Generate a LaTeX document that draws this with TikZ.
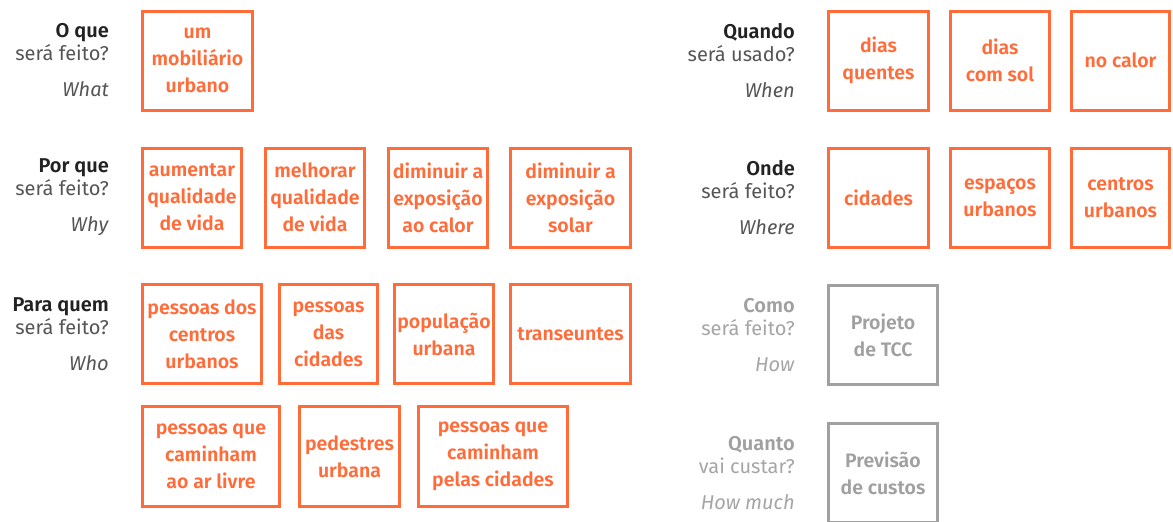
\documentclass[tikz,border=0pt]{standalone}
\usepackage{fontspec}
\setmainfont{Fira Sans}[BoldFont={Fira Sans SemiBold}]
\usetikzlibrary{positioning}

\definecolor{orng}{RGB}{255,108,58}
\definecolor{boxgray}{RGB}{160,160,160}
\definecolor{lbldark}{RGB}{34,34,34}
\definecolor{lblgray}{RGB}{85,85,85}
\definecolor{lbllight}{RGB}{165,165,165}

\tikzset{
  item/.style={draw=orng, text=orng, line width=3pt, minimum height=99pt,
    inner sep=1pt, align=center, font=\fontsize{19.5}{27}\selectfont\bfseries},
  grayitem/.style={item, draw=boxgray, text=boxgray},
  lbl/.style={align=right, inner sep=0pt, text=lblgray,
    font=\fontsize{20}{23}\selectfont},
  graylbl/.style={lbl, text=lbllight},
}

\begin{document}
\begin{tikzpicture}[x=1pt,y=-1pt]
\clip (0,0) rectangle (1173,522);

% o que / what
\node (what1) at (197.5,60.5) [item, minimum width=110pt] {um\\mobiliário\\urbano};
\node (whatL) [lbl, left=32pt of what1] {\textcolor{lbldark}{\bfseries O que}\\será feito?\\[13pt]\textit{What}};

% por que / why
\node (why1) at (192,197.5) [item, minimum width=99pt] {aumentar\\qualidade\\de vida};
\node (why2) [item, minimum width=99pt, right=21pt of why1] {melhorar\\qualidade\\de vida};
\node (why3) [item, minimum width=99pt, right=21pt of why2] {diminuir a\\exposição\\ao calor};
\node (why4) [item, minimum width=120pt, right=20pt of why3] {diminuir a\\exposição\\solar};
\node (whyL) [lbl, left=32pt of why1] {\textcolor{lbldark}{\bfseries Por que}\\será feito?\\[13pt]\textit{Why}};

% para quem / who
\node (who1) at (202,334) [item, minimum width=119pt] {pessoas dos\\centros\\urbanos};
\node (who2) [item, minimum width=98pt, right=15pt of who1] {pessoas\\das\\cidades};
\node (who3) [item, minimum width=99pt, right=14pt of who2] {população\\urbana};
\node (who4) [item, minimum width=120pt, right=14pt of who3] {transeuntes};
\node (whoL) [lbl, left=32pt of who1] {\textcolor{lbldark}{\bfseries Para quem}\\será feito?\\[13pt]\textit{Who}};
\node (who5) at (211,456.5) [item, minimum width=137pt, minimum height=100pt] {pessoas que\\caminham\\ao ar livre};
\node (who6) [item, minimum width=100pt, minimum height=100pt, right=17pt of who5] {pedestres\\urbana};
\node (who7) [item, minimum width=149pt, minimum height=100pt, right=16pt of who6] {pessoas que\\caminham\\pelas cidades};

% quando / when
\node (when1) at (878.5,60.5) [item, minimum width=100pt] {dias\\quentes};
\node (when2) [item, minimum width=99pt, right=19pt of when1] {dias\\com sol};
\node (when3) [item, minimum width=98pt, right=19pt of when2] {no calor};
\node (whenL) [lbl, left=32pt of when1] {\textcolor{lbldark}{\bfseries Quando}\\será usado?\\[13pt]\textit{When}};

% onde / where
\node (where1) at (878.5,198) [item, minimum width=100pt] {cidades};
\node (where2) [item, minimum width=99pt, right=19pt of where1] {espaços\\urbanos};
\node (where3) [item, minimum width=98pt, right=19pt of where2] {centros\\urbanos};
\node (whereL) [lbl, left=32pt of where1] {\textcolor{lbldark}{\bfseries Onde}\\será feito?\\[13pt]\textit{Where}};

% como / how
\node (how1) at (883,335) [grayitem, minimum width=109pt] {Projeto\\de TCC};
\node (howL) [graylbl, left=32pt of how1] {\textcolor{boxgray}{\bfseries Como}\\será feito?\\[13pt]\textit{How}};

% quanto / how much
\node (much1) at (883,473) [grayitem, minimum width=109pt] {Previsão\\de custos};
\node (muchL) [graylbl, left=32pt of much1] {\textcolor{boxgray}{\bfseries Quanto}\\vai custar?\\[13pt]\textit{How much}};
\end{tikzpicture}
\end{document}
